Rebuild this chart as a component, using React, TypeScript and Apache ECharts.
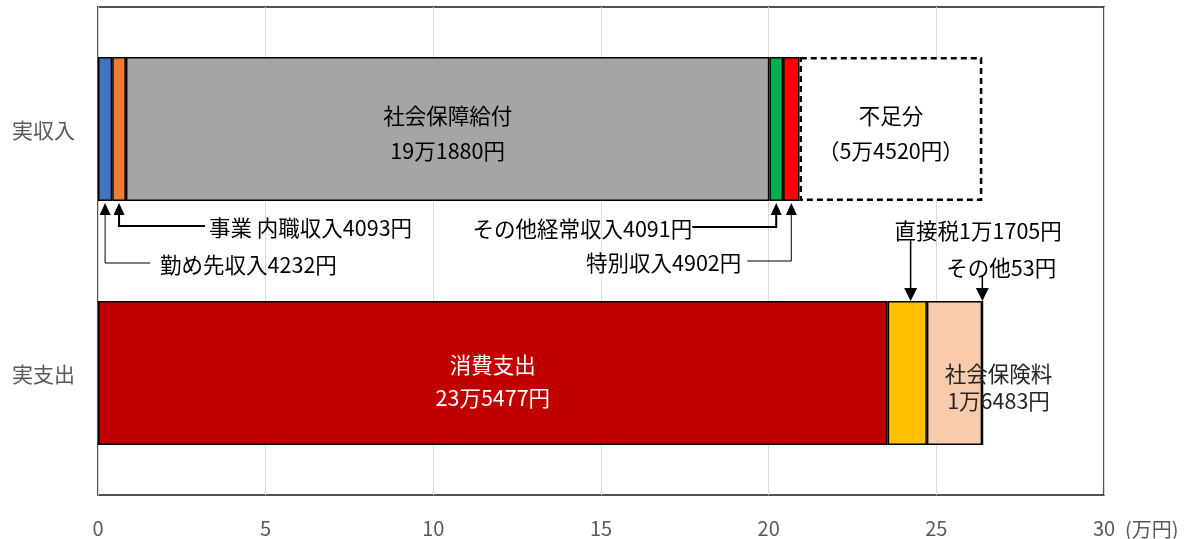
import React, { useEffect, useRef } from "react";
import * as echarts from "echarts";

const categories = ["実収入", "実支出"];
const incomeNames = ["勤め先収入", "事業・内職収入", "社会保障給付", "その他経常収入", "特別収入", "不足分"];
const incomeValues = [0.4232, 0.4093, 19.188, 0.4091, 0.4902, 5.452];
const incomeColors = ["#4472C4", "#ED7D31", "#A5A5A5", "#00B050", "#FF0000", "#FFFFFF"];
const incomeLabels = ["", "", "社会保障給付\n19万1880円", "", "", "不足分\n（5万4520円）"];
const expenseNames = ["消費支出", "直接税", "社会保険料", "その他"];
const expenseValues = [23.5477, 1.1705, 1.6483, 0.0053];
const expenseColors = ["#C00000", "#FFC000", "#F8CBAD", "#7F7F7F"];
const expenseLabels = ["消費支出\n23万5477円", "", "社会保険料\n1万6483円", ""];
const annotationTexts = {
  work: "勤め先収入4232円",
  business: "事業 内職収入4093円",
  otherIncome: "その他経常収入4091円",
  special: "特別収入4902円",
  tax: "直接税1万1705円",
  otherExp: "その他53円",
};
const xMin = 0;
const xMax = 30;
const xInterval = 5;
const xUnit = "(万円)";

const FONT = '"Noto Sans CJK JP", "Noto Sans", sans-serif';

export default function App() {
  const ref = useRef<HTMLDivElement>(null);
  useEffect(() => {
    if (!ref.current) return;
    const chart = echarts.init(ref.current, null, { renderer: "svg" });
    const BAR = 144;
    const FS = 21.5;
    const series: any[] = [];
    incomeValues.forEach((v, i) => {
      const isShort = i === 5;
      series.push({
        name: incomeNames[i],
        type: "bar",
        stack: "total",
        barWidth: BAR,
        data: [v, "-"],
        itemStyle: {
          color: incomeColors[i],
          borderColor: "#000",
          borderWidth: isShort ? 2.5 : 1.5,
          borderType: isShort ? [6, 4] : "solid",
        },
        label: {
          show: !!incomeLabels[i],
          formatter: incomeLabels[i],
          position: "inside",
          color: "#000",
          fontSize: FS,
          lineHeight: 35,
          fontFamily: FONT,
          offset: [0, 3],
        },
      });
    });
    expenseValues.forEach((v, i) => {
      series.push({
        name: expenseNames[i],
        type: "bar",
        stack: "total",
        barWidth: BAR,
        data: ["-", v],
        itemStyle: { color: expenseColors[i], borderColor: "#000", borderWidth: i === 3 ? 2 : 1.5 },
        label: {
          show: !!expenseLabels[i],
          formatter: expenseLabels[i],
          position: "inside",
          color: i === 0 ? "#FFFFFF" : "#262626",
          fontSize: FS,
          lineHeight: i === 0 ? 33 : 27,
          fontFamily: FONT,
          offset: i === 2 ? [44, 13] : [0, 7],
        },
      });
    });

    chart.setOption({
      animation: false,
      textStyle: { fontFamily: FONT },
      grid: {
        left: 98,
        right: 90,
        top: 7,
        bottom: 44,
        show: true,
        borderColor: "#1a1a1a",
        borderWidth: 1.5,
        backgroundColor: "transparent",
      },
      xAxis: {
        type: "value",
        min: xMin,
        max: xMax,
        interval: xInterval,
        axisLine: { show: false },
        axisTick: { show: false },
        splitLine: { show: true, lineStyle: { color: "#D9D9D9", width: 1 } },
        axisLabel: { color: "#595959", fontSize: 20, margin: 22, fontFamily: FONT },
      },
      yAxis: {
        type: "category",
        data: categories,
        inverse: true,
        axisLine: { show: false },
        axisTick: { show: false },
        axisLabel: { color: "#595959", fontSize: 21, margin: 23, fontFamily: FONT },
      },
      series,
    });

    const px = (x: number, cat: string) => chart.convertToPixel({ gridIndex: 0 }, [x, cat]) as number[];
    const cum = (arr: number[], i: number) => arr.slice(0, i).reduce((a, b) => a + b, 0);
    const incCenter = (i: number) => cum(incomeValues, i) + incomeValues[i] / 2;

    const topY = px(0, categories[0])[1] + BAR / 2; // bottom of income bar
    const botY = px(0, categories[1])[1] - BAR / 2; // top of expense bar

    const g: any[] = [];
    const AW = 5.5;
    const AH = 12;
    const upArrow = (x: number, tip: number) => ({
      type: "polygon",
      z: 100,
      shape: { points: [[x, tip], [x - AW, tip + AH], [x + AW, tip + AH]] },
      style: { fill: "#000" },
    });
    const downArrow = (x: number, tip: number) => ({
      type: "polygon",
      z: 100,
      shape: { points: [[x, tip], [x - AW - 1, tip - AH - 1], [x + AW + 1, tip - AH - 1]] },
      style: { fill: "#000" },
    });
    const poly = (pts: number[][], w: number) => ({
      type: "polyline",
      z: 100,
      shape: { points: pts },
      style: { stroke: "#000", lineWidth: w, fill: null },
    });
    const text = (t: string, x: number, y: number, align: string) => ({
      type: "text",
      z: 100,
      style: { text: t, x, y, fill: "#000", fontSize: FS, fontFamily: FONT, align, verticalAlign: "middle" },
    });

    const tip = topY + 2;
    // 勤め先収入
    const x0 = px(incCenter(0), categories[0])[0];
    g.push(upArrow(x0, tip));
    g.push(poly([[x0, tip + AH], [x0, topY + 62], [x0 + 45, topY + 62]], 1));
    g.push(text(annotationTexts.work, x0 + 55, topY + 62, "left"));
    // 事業 内職収入
    const x1 = px(incCenter(1), categories[0])[0];
    g.push(upArrow(x1, tip));
    g.push(poly([[x1, tip + AH], [x1, topY + 25], [x1 + 86, topY + 25]], 2));
    g.push(text(annotationTexts.business, x1 + 90, topY + 25, "left"));
    // その他経常収入
    const x3 = px(incCenter(3), categories[0])[0];
    g.push(upArrow(x3, tip));
    g.push(poly([[x3, tip + AH], [x3, topY + 26], [x3 - 84, topY + 26]], 2));
    g.push(text(annotationTexts.otherIncome, x3 - 84, topY + 26, "right"));
    // 特別収入
    const x4 = px(incCenter(4), categories[0])[0];
    g.push(upArrow(x4, tip));
    g.push(poly([[x4, tip + AH], [x4, topY + 60], [x4 - 44, topY + 60]], 1));
    g.push(text(annotationTexts.special, x4 - 50, topY + 60, "right"));
    // 直接税
    const x5 = px(cum(expenseValues, 1) + expenseValues[1] / 2 + 0.1, categories[1])[0];
    g.push(downArrow(x5, botY));
    g.push(poly([[x5, botY - 62], [x5, botY - AH]], 1.5));
    g.push(text(annotationTexts.tax, x5 - 16, botY - 72, "left"));
    // その他
    const x6 = px(cum(expenseValues, 4), categories[1])[0];
    g.push(downArrow(x6, botY));
    g.push(poly([[x6, botY - 26], [x6, botY - AH]], 1.5));
    g.push(text(annotationTexts.otherExp, x6 - 36, botY - 35, "left"));
    // unit
    const ux = px(xMax, categories[1])[0];
    const axisBottom = px(0, categories[1])[1] + (px(0, categories[1])[1] - px(0, categories[0])[1]) / 2;
    g.push({
      type: "text",
      z: 100,
      style: { text: xUnit, x: ux + 21, y: axisBottom + 33, fill: "#595959", fontSize: 20, fontFamily: FONT, align: "left", verticalAlign: "middle" },
    });

    chart.setOption({ graphic: g });

    return () => chart.dispose();
  }, []);
  return <div ref={ref} style={{ position: "fixed", left: 0, top: 0, width: 1194, height: 539 }} />;
}
